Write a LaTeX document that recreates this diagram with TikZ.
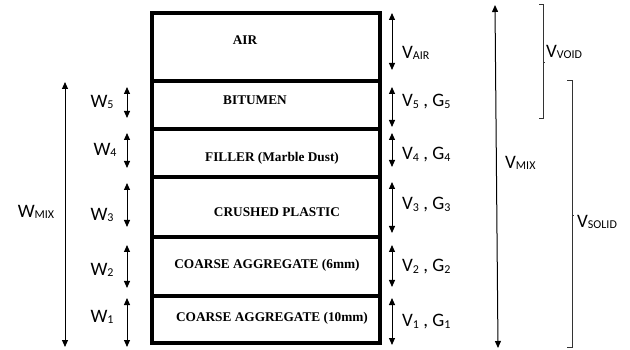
\documentclass[tikz,border=0pt]{standalone}
\usepackage{fontspec}
\setmainfont{Liberation Serif}
\newfontfamily\lblfont{Carlito}
\usetikzlibrary{arrows.meta}
\usetikzlibrary{positioning}
\usetikzlibrary{calc}
\newcommand{\lsub}[1]{\raisebox{-0.15ex}{\fontsize{12}{12}\selectfont #1}}
\tikzset{%
  layer/.style = {font=\bfseries\fontsize{13.3}{14}\selectfont, inner sep=0pt},
  dim/.style = {{Triangle[length=7pt,width=6pt]}-{Triangle[length=7pt,width=6pt]}, line width=1pt},
  lbl/.style = {font=\lblfont\fontsize{19}{20}\selectfont, inner sep=0pt},
  brace/.style = {line width=0.8pt, black!80}
}

\begin{document}
\begin{tikzpicture}[x=1pt,y=-1pt]
  \useasboundingbox (0,0) rectangle (630,350);

  % Specification of the layers
  \draw[line width=3.5pt] (152,13) rectangle (380,343);
  \draw[line width=3.5pt] (152,81) -- (380,81);
  \draw[line width=3.5pt] (152,129) -- (380,129);
  \draw[line width=3.5pt] (152,177) -- (380,177);
  \draw[line width=3.5pt] (152,237) -- (380,237);
  \draw[line width=3.5pt] (152,296) -- (380,296);

  \node (air) [layer] at (245,40) {AIR};
  \node (bitumen) [layer] at (255,100) {BITUMEN};
  \node (filler) [layer] at (272,158) {FILLER (Marble Dust)};
  \node (plastic) [layer] at (277,212) {CRUSHED PLASTIC};
  \node (agg-six) [layer] at (267,265) {COARSE AGGREGATE (6mm)};
  \node (agg-ten) [layer] at (272,318) {COARSE AGGREGATE (10mm)};

  % Weights on the left
  \draw[dim] (65,82) -- (65,347);
  \draw[dim] (127,87) -- (127,118);
  \draw[dim] (127,133) -- (127,168);
  \draw[dim] (127,183) -- (127,227);
  \draw[dim] (127,245) -- (127,288);
  \draw[dim] (127,298) -- (127,347);

  \node (w-mix) [lbl] at (36,212) {W\lsub{MIX}};
  \node (w-five) [lbl] at (102,102) {W\lsub{5}};
  \node (w-four) [lbl] at (105,150) {W\lsub{4}};
  \node (w-three) [lbl] at (102,215) {W\lsub{3}};
  \node (w-two) [lbl] at (102,270) {W\lsub{2}};
  \node (w-one) [lbl] at (102,317) {W\lsub{1}};

  % Volumes on the right
  \draw[dim] (392,13) -- (392,70);
  \draw[dim] (392,87) -- (392,127);
  \draw[dim] (392,133) -- (392,167);
  \draw[dim] (392,182) -- (392,233);
  \draw[dim] (392,245) -- (392,287);
  \draw[dim] (392,298) -- (392,345);
  \draw[dim] (495,5) -- (498,348);

  \node (v-air) [lbl, anchor=west] at (402,53) {V\lsub{AIR}};
  \node (v-five) [lbl, anchor=west] at (402,102) {V\lsub{5} , G\lsub{5}};
  \node (v-four) [lbl, anchor=west] at (402,155) {V\lsub{4} , G\lsub{4}};
  \node (v-three) [lbl, anchor=west] at (402,205) {V\lsub{3} , G\lsub{3}};
  \node (v-two) [lbl, anchor=west] at (402,267) {V\lsub{2} , G\lsub{2}};
  \node (v-one) [lbl, anchor=west] at (402,322) {V\lsub{1} , G\lsub{1}};
  \node (v-mix) [lbl, anchor=west] at (505,163) {V\lsub{MIX}};

  % Brackets
  \draw[brace] (539,4) -- (543,4) -- (543,118) -- (539,118);
  \draw[brace] (543,62) -- (545,62);
  \draw[brace] (567,80) -- (572,80) -- (572,347) -- (567,347);
  \draw[brace] (572,215) -- (574,215);
  \node (v-void) [lbl, anchor=west] at (546,52) {V\lsub{VOID}};
  \node (v-solid) [lbl, anchor=west] at (577,222) {V\lsub{SOLID}};
\end{tikzpicture}
\end{document}
